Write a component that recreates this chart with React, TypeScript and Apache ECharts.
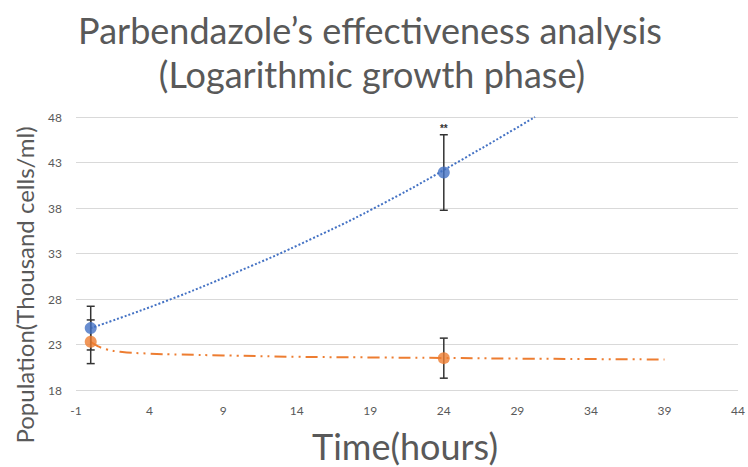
import React, { useEffect, useRef } from "react";
import * as echarts from "echarts";

const TITLE_1 = "Parbendazole’s effectiveness analysis";
const TITLE_2 = "(Logarithmic growth phase)";
const X_NAME = "Time(hours)";
const Y_NAME = "Population(Thousand cells/ml)";

// measured points
const timePoints = [0, 24];
const blueValues = [24.8, 41.9];
const blueErrors = [2.4, 4.15];
const blueMarks = ["", "**"];
const orangeValues = [23.3, 21.5];
const orangeErrors = [2.4, 2.2];

// trendlines
const blueTrendX = [0, 5, 10, 15, 20, 25, 30.2];
const blueTrendY = [24.8, 27.7, 31.0, 34.6, 38.6, 43.1, 48.0];
const orangeTrendX = [0, 0.5, 1, 2, 4, 6, 9, 14, 19, 24, 29, 34, 39];
const orangeTrendY = [23.3, 22.8, 22.5, 22.2, 22.0, 21.9, 21.8, 21.65, 21.58, 21.52, 21.45, 21.4, 21.35];

const BLUE = "#4472C4";
const ORANGE = "#ED7D31";
const TEXT = "#595959";
const FONT = "Lato, 'Open Sans', sans-serif";

function errRender(values: number[], errors: number[], marks: string[]) {
  return (params: any, api: any) => {
    const i = params.dataIndex;
    const x = timePoints[i];
    const top = api.coord([x, values[i] + errors[i]]);
    const bot = api.coord([x, values[i] - errors[i]]);
    const hw = 4;
    const style = { stroke: "#333333", lineWidth: 1.5 };
    const children: any[] = [
      { type: "line", shape: { x1: top[0], y1: top[1], x2: bot[0], y2: bot[1] }, style },
      { type: "line", shape: { x1: top[0] - hw, y1: top[1], x2: top[0] + hw, y2: top[1] }, style },
      { type: "line", shape: { x1: bot[0] - hw, y1: bot[1], x2: bot[0] + hw, y2: bot[1] }, style },
    ];
    if (marks[i]) {
      children.push({
        type: "text",
        style: {
          text: marks[i],
          x: top[0],
          y: top[1] - 1,
          align: "center",
          verticalAlign: "bottom",
          fill: "#333333",
          font: "bold 10px 'Liberation Sans', sans-serif",
        },
      });
    }
    return { type: "group", children };
  };
}

export default function App() {
  const ref = useRef<HTMLDivElement>(null);
  useEffect(() => {
    if (!ref.current) return;
    const chart = echarts.init(ref.current, undefined, { renderer: "svg" });
    chart.setOption({
      animation: false,
      backgroundColor: "#ffffff",
      grid: { left: 76, right: 6, top: 117, bottom: 77, containLabel: false },
      xAxis: {
        type: "value",
        min: -1,
        max: 44,
        interval: 5,
        axisLine: { show: false },
        axisTick: { show: false },
        splitLine: { show: false },
        axisLabel: { color: TEXT, fontSize: 12, fontFamily: FONT, margin: 14 },
      },
      yAxis: {
        type: "value",
        min: 18,
        max: 48,
        interval: 5,
        axisLine: { show: false },
        axisTick: { show: false },
        splitLine: { show: true, lineStyle: { color: "#D9D9D9", width: 1 } },
        axisLabel: { color: TEXT, fontSize: 12, fontFamily: FONT, margin: 14 },
      },
      graphic: [
        {
          type: "text",
          x: 370,
          y: 30,
          style: { text: TITLE_1, align: "center", verticalAlign: "middle", fill: TEXT, font: `36px ${FONT}` },
        },
        {
          type: "text",
          x: 372,
          y: 74,
          style: { text: TITLE_2, align: "center", verticalAlign: "middle", fill: TEXT, font: `36px ${FONT}` },
        },
        {
          type: "text",
          x: 405,
          y: 446,
          style: { text: X_NAME, align: "center", verticalAlign: "middle", fill: TEXT, font: `36px ${FONT}` },
        },
        {
          type: "text",
          x: 24,
          y: 285,
          rotation: Math.PI / 2,
          style: { text: Y_NAME, align: "center", verticalAlign: "middle", fill: TEXT, font: `24px ${FONT}` },
        },
      ],
      series: [
        {
          type: "line",
          data: blueTrendX.map((x, i) => [x, blueTrendY[i]]),
          smooth: true,
          symbol: "none",
          lineStyle: { color: BLUE, width: 2, type: [2, 2] },
          z: 2,
        },
        {
          type: "line",
          data: orangeTrendX.map((x, i) => [x, orangeTrendY[i]]),
          smooth: true,
          symbol: "none",
          lineStyle: { color: ORANGE, width: 2, type: [12, 5, 2, 5, 2, 5] },
          z: 2,
        },
        {
          type: "custom",
          renderItem: errRender(blueValues, blueErrors, blueMarks),
          data: timePoints.map((x, i) => [x, blueValues[i]]),
          z: 3,
        },
        {
          type: "custom",
          renderItem: errRender(orangeValues, orangeErrors, ["", ""]),
          data: timePoints.map((x, i) => [x, orangeValues[i]]),
          z: 3,
        },
        {
          type: "scatter",
          data: timePoints.map((x, i) => [x, blueValues[i]]),
          symbolSize: 12,
          itemStyle: { color: BLUE },
          z: 4,
        },
        {
          type: "scatter",
          data: timePoints.map((x, i) => [x, orangeValues[i]]),
          symbolSize: 12,
          itemStyle: { color: ORANGE },
          z: 4,
        },
      ],
    });
    return () => chart.dispose();
  }, []);
  return <div ref={ref} style={{ width: 748, height: 467, position: "fixed", left: 0, top: 0 }} />;
}
